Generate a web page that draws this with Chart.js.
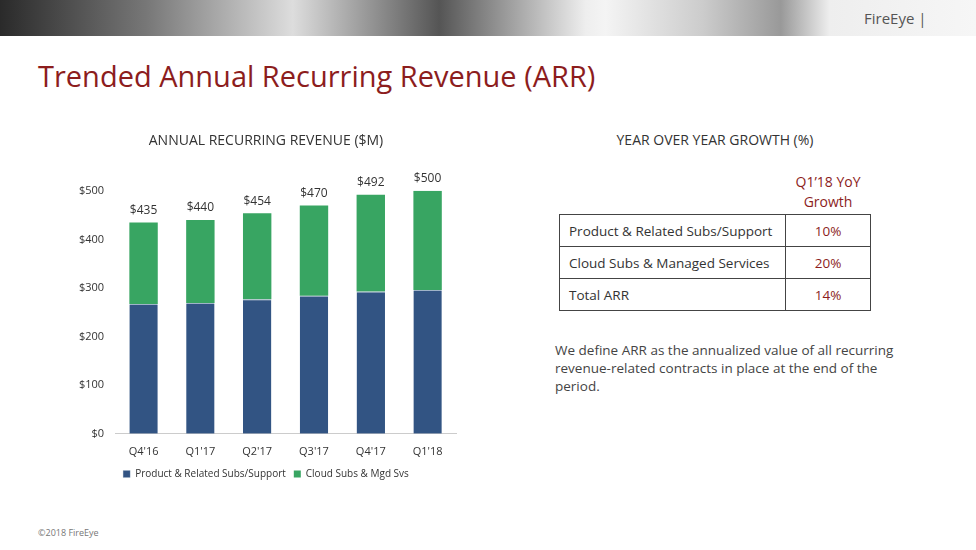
<!DOCTYPE html>
<html><head><meta charset="utf-8">
<script src="https://cdn.jsdelivr.net/npm/chart.js@4"></script>
<style>
body{margin:0;width:976px;height:550px;background:#fff;font-family:"Open Sans","Noto Sans",sans-serif;position:relative;overflow:hidden}
#banner{position:absolute;left:0;top:0;width:976px;height:36px;background:linear-gradient(90deg,#2a2a2a 0%,#777 15%,#ddd 30%,#555 45%,#eee 60%,#f4f4f4 62%,#ccc 72%,#999 80%,#eee 85%,#f6f6f6 100%)}
#logo{position:absolute;left:864px;top:8px;font-size:15px;color:#555}
#title{position:absolute;left:38px;top:56px;font-size:29px;color:#8c1d1d}
#wrap{position:absolute;left:76px;top:127px;width:394px;height:362px}
#yoy{position:absolute;left:560px;top:130px;width:310px;text-align:center;font-size:14px;color:#333}
#hdr{position:absolute;left:785px;top:172px;width:86px;text-align:center;font-size:14px;color:#8c1d1d;line-height:20px}
table{position:absolute;left:559px;top:214px;width:312px;border-collapse:collapse;font-size:13.5px;color:#333;white-space:nowrap}
td{border:1px solid #444;height:31px;padding:0 9px}
td.v{width:84px;text-align:center;color:#8c1d1d;padding:0}
#note{position:absolute;left:555px;top:341px;width:350px;font-size:13.5px;color:#444;line-height:18px}
#foot{position:absolute;left:38px;top:526px;font-size:9px;color:#777}
</style></head><body>
<div id="banner"></div><div id="logo">FireEye |</div>
<div id="title">Trended Annual Recurring Revenue (ARR)</div>
<div id="wrap"><canvas id="c"></canvas></div>
<div id="yoy">YEAR OVER YEAR GROWTH (%)</div>
<div id="hdr">Q1’18 YoY Growth</div>
<table>
<tr><td>Product &amp; Related Subs/Support</td><td class="v">10%</td></tr>
<tr><td>Cloud Subs &amp; Managed Services</td><td class="v">20%</td></tr>
<tr><td>Total ARR</td><td class="v">14%</td></tr>
</table>
<div id="note">We define ARR as the annualized value of all recurring revenue-related contracts in place at the end of the period.</div>
<div id="foot">©2018 FireEye</div>
<script>
const categories=["Q4'16","Q1'17","Q2'17","Q3'17","Q4'17","Q1'18"];
const totals=[435,440,454,470,492,500];
const product=[267,269,277,284,293,296];
const cloud=[168,171,177,186,199,204];
const totalLabels=["$435","$440","$454","$470","$492","$500"];
const labelPlugin={id:'tot',afterDatasetsDraw(ch){const c=ch.ctx,x=ch.scales.x,y=ch.scales.y;c.save();c.font='12px "Open Sans"';c.fillStyle='#333';c.textAlign='center';c.textBaseline='bottom';
totals.forEach((t,i)=>c.fillText(totalLabels[i],x.getPixelForValue(i),y.getPixelForValue(t)-6));c.restore();}};
new Chart(document.getElementById('c'),{type:'bar',
data:{labels:categories,datasets:[
{label:'Product & Related Subs/Support',data:product,backgroundColor:'#325483',borderColor:'#9fb3c8',borderWidth:{top:1},barPercentage:0.5,categoryPercentage:1},
{label:'Cloud Subs & Mgd Svs',data:cloud,backgroundColor:'#38a562',barPercentage:0.5,categoryPercentage:1}]},
options:{responsive:true,maintainAspectRatio:false,animation:false,
layout:{padding:{left:0,right:14,top:0}},
plugins:{title:{display:true,text:'ANNUAL RECURRING REVENUE ($M)',color:'#333',font:{size:14,family:'Open Sans',weight:'normal'},padding:{top:6,bottom:41}},
legend:{position:'bottom',labels:{boxWidth:7,boxHeight:7,font:{size:10,family:'Open Sans'},color:'#333',padding:8}},tooltip:{enabled:false}},
scales:{x:{stacked:true,grid:{display:false},border:{color:'#ccc'},ticks:{color:'#333',font:{size:11,family:'Open Sans'}}},
y:{stacked:true,min:0,max:500,ticks:{stepSize:100,color:'#333',font:{size:11,family:'Open Sans'},callback:v=>'$'+v},grid:{display:false},border:{display:false}}}},
plugins:[labelPlugin]});
</script></body></html>
